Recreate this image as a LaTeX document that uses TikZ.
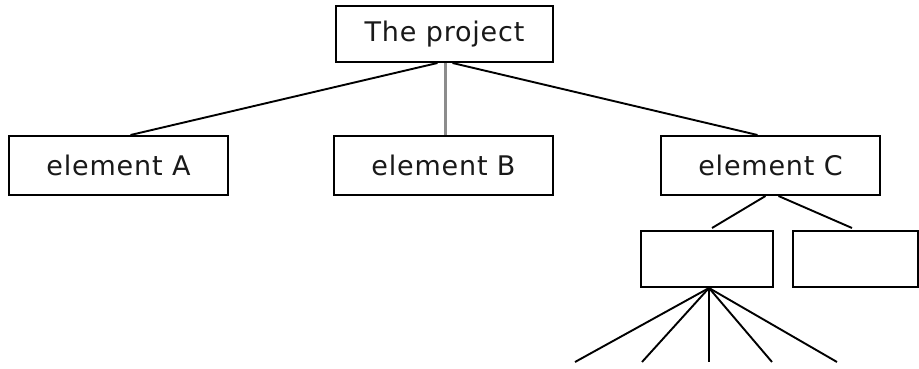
\documentclass[tikz,border=0pt]{standalone}
\usepackage{fontspec}
\setmainfont{DejaVu Sans}[LetterSpace=3]
\begin{document}
\begin{tikzpicture}[x=1pt,y=-1pt,
  box/.style={draw=black,line width=2pt,fill=white,inner sep=0pt,
    font=\fontsize{27}{31}\selectfont,text=black!90},
  conn/.style={draw=black,line width=1.9pt},
  grayconn/.style={draw=black!45,line width=3pt}]
\useasboundingbox (0,0) rectangle (919,369);
\node[box,minimum width=217pt,minimum height=56pt] (P) at (444.5,34) {The project};
\node[box,minimum width=219pt,minimum height=59pt] (A) at (118.5,165.5) {element A};
\node[box,minimum width=219pt,minimum height=59pt] (B) at (443.5,165.5) {element B};
\node[box,minimum width=219pt,minimum height=59pt] (C) at (770.5,165.5) {element C};
\node[box,minimum width=132pt,minimum height=56pt] (D1) at (707,259) {};
\node[box,minimum width=125pt,minimum height=56pt] (D2) at (855.5,259) {};
\coordinate (c1) at (712,228);
\coordinate (c2) at (852,228);
\coordinate (f1) at (575,362);
\coordinate (f2) at (642,362);
\coordinate (f3) at (709,362);
\coordinate (f4) at (772,362);
\coordinate (f5) at (837,362);
\draw[conn] ([xshift=-7pt]P.south) -- ([xshift=12pt]A.north);
\draw[grayconn] ([xshift=1pt]P.south) -- ([xshift=2pt]B.north);
\draw[conn] ([xshift=8pt]P.south) -- ([xshift=-13pt]C.north);
\draw[conn] ([xshift=-5pt]C.south) -- (c1);
\draw[conn] ([xshift=8pt]C.south) -- (c2);
\foreach \f in {f1,f2,f3,f4,f5}{\draw[conn] ([xshift=2pt]D1.south) -- (\f);}
\end{tikzpicture}
\end{document}
